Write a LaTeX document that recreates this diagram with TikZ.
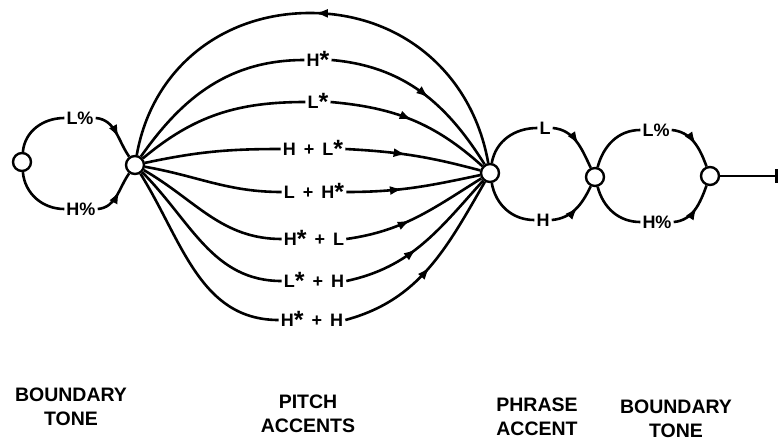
\documentclass[tikz,border=0pt]{standalone}
\usepackage{fontspec}
\setmainfont{Liberation Sans}
\usetikzlibrary{arrows.meta,decorations.markings}
\newcommand{\st}{\raisebox{-1.5pt}{\fontsize{25}{25}\selectfont *}}
\newcommand{\pl}{\hspace{8pt}+\hspace{8pt}}
\tikzset{
 state/.style={circle,draw,line width=2.4pt,minimum size=18pt,inner sep=0pt,fill=white},
 edge/.style={line width=2.6pt},
 tone/.style={font=\bfseries\fontsize{18}{20}\selectfont, inner sep=2pt, text height=13pt, text depth=0pt},
 caption/.style={font=\bfseries\fontsize{19.5}{24}\selectfont, align=center, inner sep=0pt},
 midarr/.style={postaction={decorate},decoration={markings,mark=at position #1 with {\arrow{Latex[length=13pt,width=9pt]}}}},
}
\begin{document}
\begin{tikzpicture}[x=1pt,y=1pt]
\useasboundingbox (0,0) rectangle (780,-445);
% states
\node[state] (n0) at (22,-162) {};
\node[state] (n1) at (135,-165) {};
\node[state] (n2) at (490,-173) {};
\node[state] (n3) at (595,-177) {};
\node[state] (n4) at (710,-176) {};
\coordinate (top) at (310,-13);
\coordinate (fin) at (778,-176);
% tone labels
\node[tone] (lpct) at (80,-118) {L\%};
\node[tone] (hpct) at (81,-209) {H\%};
\node[tone] (hs) at (318,-60) {H\st};
\node[tone] (ls) at (318,-102) {L\st};
\node[tone] (hpls) at (313,-149) {H\pl L\st};
\node[tone] (lphs) at (314,-192) {L\pl H\st};
\node[tone] (hspl) at (314,-239) {H\st\pl L};
\node[tone] (lsph) at (314,-281) {L\st\pl H};
\node[tone] (hsph) at (312,-320) {H\st\pl H};
\node[tone] (pl) at (545,-128) {L};
\node[tone] (ph) at (543,-220) {H};
\node[tone] (bl) at (656,-130) {L\%};
\node[tone] (bh) at (657,-222) {H\%};
% initial boundary tone
\draw[edge] (n0) to[out=85,in=180] (lpct.west);
\draw[edge,midarr=0.6] (lpct.east) to[out=-5,in=125] (n1);
\draw[edge] (n0) to[out=-85,in=180] (hpct.west);
\draw[edge,midarr=0.6] (hpct.east) to[out=5,in=-125] (n1);
% pitch accents
\draw[edge,midarr=0.5] (n2) to[out=100,in=0] (top) to[out=180,in=80] (n1);
\draw[edge] (n1) to[out=55,in=180] (hs.west);
\draw[edge,midarr=0.55] (hs.east) to[out=-5,in=122] (n2);
\draw[edge] (n1) to[out=40,in=180] (ls.west);
\draw[edge,midarr=0.5] (ls.east) to[out=-5,in=138] (n2);
\draw[edge] (n1) to[out=12,in=180] (hpls.west);
\draw[edge,midarr=0.45] (hpls.east) to[out=-3,in=165] (n2);
\draw[edge] (n1) to[out=-10,in=180] (lphs.west);
\draw[edge,midarr=0.42] (lphs.east) to[out=0,in=-168] (n2);
\draw[edge] (n1) to[out=-30,in=180] (hspl.west);
\draw[edge,midarr=0.45] (hspl.east) to[out=8,in=-148] (n2);
\draw[edge] (n1) to[out=-45,in=180] (lsph.west);
\draw[edge,midarr=0.45] (lsph.east) to[out=12,in=-132] (n2);
\draw[edge] (n1) to[out=-58,in=180] (hsph.west);
\draw[edge,midarr=0.5] (hsph.east) to[out=15,in=-120] (n2);
% phrase accent
\draw[edge] (n2) to[out=80,in=180] (pl.west);
\draw[edge,midarr=0.55] (pl.east) to[out=-5,in=115] (n3);
\draw[edge] (n2) to[out=-80,in=180] (ph.west);
\draw[edge,midarr=0.55] (ph.east) to[out=5,in=-115] (n3);
% final boundary tone
\draw[edge] (n3) to[out=75,in=180] (bl.west);
\draw[edge,midarr=0.55] (bl.east) to[out=-5,in=110] (n4);
\draw[edge] (n3) to[out=-75,in=180] (bh.west);
\draw[edge,midarr=0.55] (bh.east) to[out=5,in=-110] (n4);
\draw[line width=1.8pt,-{Bar[width=14pt,line width=3.5pt]}] (n4) -- (fin);
% captions
\node[caption] (c1) at (71,-407) {BOUNDARY\\TONE};
\node[caption] (c2) at (308,-414) {PITCH\\ACCENTS};
\node[caption] (c3) at (537,-417) {PHRASE\\ACCENT};
\node[caption] (c4) at (676,-419) {BOUNDARY\\TONE};
\end{tikzpicture}
\end{document}
